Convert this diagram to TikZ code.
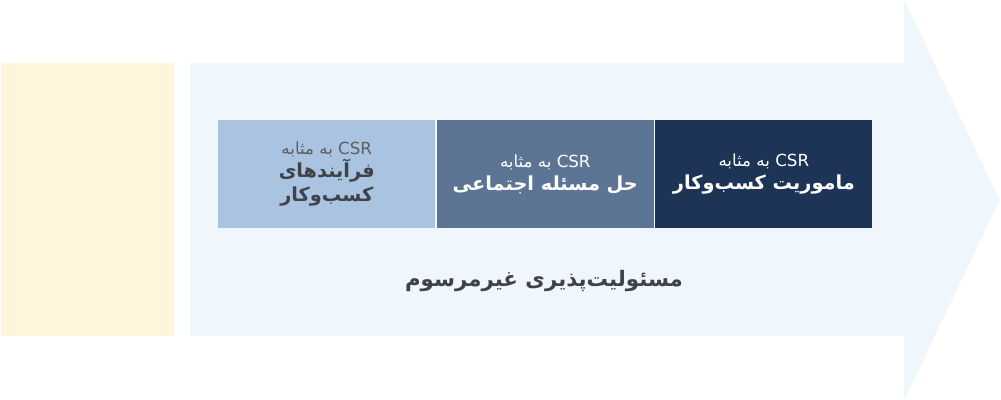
\documentclass[tikz,border=0pt]{standalone}
\usepackage{fontspec}
\newfontfamily\farsi[Script=Arabic]{DejaVu Sans}
\TeXXeTstate=1
\usetikzlibrary{positioning}
\definecolor{arrowbg}{HTML}{F0F7FC}
\definecolor{paneyellow}{HTML}{FEF5DC}
\definecolor{boxlight}{HTML}{A9C3E1}
\definecolor{boxmid}{HTML}{5D7594}
\definecolor{boxdark}{HTML}{1D3456}
\definecolor{textgray}{HTML}{3F4348}
\newcommand{\rtl}[1]{\beginR #1\endR}
\newcommand{\csr}{\rtl{\beginL CSR\endL{} به مثابه}}
\tikzset{
    csrbox/.style={minimum width=162.75pt, minimum height=81pt, inner sep=0pt,
        align=center, font=\farsi\fontsize{14.5}{19}\selectfont},
    caption/.style={font=\farsi\bfseries\fontsize{16}{20}\selectfont, text=textgray}
}

\begin{document}
\begin{tikzpicture}[x=0.75pt, y=-0.75pt]
    \useasboundingbox (0,0) rectangle (1001,400);
    % Yellow panel
    \fill[paneyellow] (1,63) rectangle (174,336);
    % Background arrow
    \fill[arrowbg] (190,63) -- (904,63) -- (904,0) -- (1000,200) -- (904,400)
        -- (904,336) -- (190,336) -- cycle;
    % CSR boxes
    \node[csrbox, fill=boxlight, text=textgray, anchor=north west] (process) at (218,120)
        {{\fontsize{12.5}{14}\selectfont\color{textgray!85}\csr}\\[-2pt]
         {\bfseries\rtl{فرآیندهای}}\\[-1pt]{\bfseries\rtl{کسب‌وکار}}};
    \node[csrbox, fill=boxmid, text=white, right=0.75pt of process] (social)
        {{\fontsize{12.5}{14}\selectfont\csr}\\[-2pt]{\bfseries\rtl{حل مسئله اجتماعی}}};
    \node[csrbox, fill=boxdark, text=white, right=0.75pt of social] (mission)
        {{\fontsize{12.5}{14}\selectfont\csr}\\[-2pt]{\bfseries\rtl{ماموریت کسب‌وکار}}};
    % Caption
    \node[caption] (unconv) at (544,281) {\rtl{مسئولیت‌پذیری غیرمرسوم}};
\end{tikzpicture}
\end{document}
